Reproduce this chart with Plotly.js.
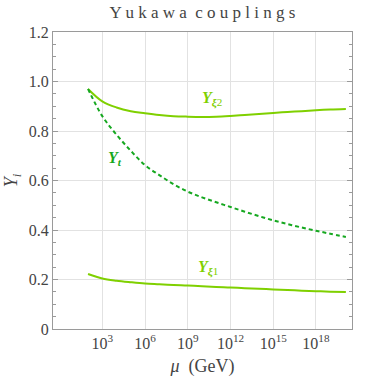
<!DOCTYPE html>
<html>
<head>
<meta charset="utf-8">
<script src="https://cdn.plot.ly/plotly-3.0.1.min.js"></script>
<style>
  .modebar-container { display: none !important; }
  #plot svg text, #plot svg tspan { font-family: "Liberation Serif", serif !important; }
</style>
</head>
<body style="margin:0">
<div id="plot"></div>
<script>
// log10(mu / GeV) sample points
let arrLogMu = [2, 3, 4, 5, 6, 7, 8, 9, 10, 11, 12, 13, 14, 15, 16, 17, 18, 19, 20.1];

// couplings at those scales
let arrYxi2 = [0.97, 0.92, 0.895, 0.88, 0.872, 0.865, 0.86, 0.858, 0.857, 0.858, 0.861, 0.865, 0.869, 0.873, 0.877, 0.880, 0.884, 0.887, 0.889];
let arrYt   = [0.97, 0.86, 0.785, 0.72, 0.662, 0.622, 0.585, 0.555, 0.532, 0.512, 0.493, 0.474, 0.456, 0.439, 0.424, 0.410, 0.397, 0.385, 0.372];
let arrYxi1 = [0.222, 0.204, 0.195, 0.189, 0.184, 0.181, 0.178, 0.176, 0.173, 0.170, 0.168, 0.165, 0.163, 0.160, 0.158, 0.155, 0.153, 0.151, 0.149];

// tick labels
let arrXTickExp = [3, 6, 9, 12, 15, 18];
let arrYTickVals = [0, 0.2, 0.4, 0.6, 0.8, 1.0, 1.2];
let arrYTickText = ["0", "0.2", "0.4", "0.6", "0.8", "1.0", "1.2"];

let arrMu = arrLogMu.map(p => Math.pow(10, p));

let colLight = "#7fd000";
let colDark = "#16a820";

let traces = [
  { x: arrMu, y: arrYxi2, mode: "lines", line: { color: colLight, width: 2, shape: "spline" } },
  { x: arrMu, y: arrYt, mode: "lines", line: { color: colDark, width: 2, dash: "4px,3px", shape: "spline" } },
  { x: arrMu, y: arrYxi1, mode: "lines", line: { color: colLight, width: 2, shape: "spline" } }
];

// label for a coupling: bold italic Y with a subscript
function labelText(sym, idx) {
  return "<b><i>Y</i></b><sub><b><i>" + sym + "</i></b>" + idx + "</sub>";
}

Plotly.newPlot("plot", traces, {
  width: 382,
  height: 380,
  showlegend: false,
  margin: { l: 53, r: 30, t: 32, b: 51 },
  title: {
    text: "Y u k a w a  c o u p l i n g s",
    font: { family: "Liberation Serif", size: 17 },
    x: 0.53, xanchor: "center", y: 0.985, yanchor: "top"
  },
  xaxis: {
    type: "log",
    range: [-0.46, 20.53],
    tickvals: arrXTickExp.map(p => Math.pow(10, p)),
    ticktext: arrXTickExp.map(p => "10<sup>" + p + "</sup>"),
    showgrid: true, gridcolor: "#e2e2e2",
    showline: true, linecolor: "#9a9a9a", mirror: true,
    ticks: "", zeroline: false,
    tickfont: { family: "Liberation Serif", size: 16 },
    title: { text: "<i>&#956;</i>  (GeV)", font: { family: "Liberation Serif", size: 18 }, standoff: 8 }
  },
  yaxis: {
    range: [0, 1.2],
    tickvals: arrYTickVals,
    ticktext: arrYTickText,
    showgrid: true, gridcolor: "#e2e2e2",
    showline: true, linecolor: "#9a9a9a", mirror: "allticks",
    ticks: "inside", ticklen: 5, tickcolor: "#9a9a9a",
    minor: { dtick: 0.05, ticks: "inside", ticklen: 3, tickcolor: "#9a9a9a", showgrid: false },
    zeroline: false,
    tickfont: { family: "Liberation Serif", size: 16 },
    title: { text: "<i>Y<sub>i</sub></i>", font: { family: "Liberation Serif", size: 18 }, standoff: 6 }
  },
  annotations: [
    { x: 10.7, y: 0.93, xref: "x", yref: "y", showarrow: false,
      text: labelText("&#958;", "2"), font: { family: "Liberation Serif", size: 16, color: colLight } },
    { x: 3.9, y: 0.69, xref: "x", yref: "y", showarrow: false,
      text: labelText("t", ""), font: { family: "Liberation Serif", size: 16, color: colDark } },
    { x: 10.45, y: 0.245, xref: "x", yref: "y", showarrow: false,
      text: labelText("&#958;", "1"), font: { family: "Liberation Serif", size: 16, color: colLight } }
  ]
});
</script>
</body>
</html>
